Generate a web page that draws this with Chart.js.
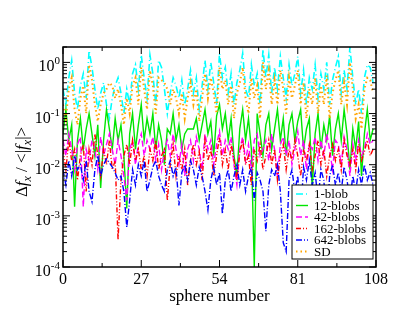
<!DOCTYPE html>
<html>
<head>
<meta charset="utf-8">
<script src="https://cdn.jsdelivr.net/npm/chart.js@4"></script>
<style>
  html, body { margin: 0; padding: 0; background: #fff; }
  #wrap { width: 407px; height: 315px; }
</style>
</head>
<body>
<div id="wrap"><canvas id="blobChart"></canvas></div>
<script>
// values, sphere 0..107
const oneBlob = [
  0.3, 0.15, 0.5, 1.1, 0.25, 0.12, 0.35, 0.6, 0.2, 1.7,
  0.8, 0.3, 0.12, 0.25, 0.4, 0.15, 0.08, 0.2, 0.35, 0.5,
  0.25, 0.1, 0.3, 0.15, 0.6, 0.9, 0.3, 1.4, 0.5, 0.2,
  1.4, 0.6, 0.15, 1.1, 0.8, 0.3, 0.1, 0.25, 0.5, 0.35,
  0.2, 0.45, 0.15, 0.3, 0.7, 0.25, 0.5, 0.12, 0.35, 1.1,
  0.3, 1.0, 0.4, 0.15, 1.5, 0.5, 0.8, 0.25, 0.6, 0.15,
  0.4, 0.7, 1.5, 0.3, 0.2, 0.9, 0.35, 0.6, 0.15, 1.8,
  0.5, 1.4, 0.25, 0.8, 0.3, 1.3, 0.5, 0.2, 0.9, 0.35,
  0.6, 1.3, 0.25, 0.7, 0.15, 0.5, 0.3, 0.9, 0.2, 0.6,
  0.3, 1.0, 0.15, 0.45, 0.8, 1.3, 0.25, 0.7, 0.3, 2.0,
  0.5, 0.15, 0.3, 0.1, 0.5, 0.9, 0.8, 0.4
];
const twelveBlobs = [
  0.04, 0.12, 0.03, 0.06, 0.0015, 0.03, 0.08, 0.02, 0.05, 0.1,
  0.04, 0.015, 0.06, 0.0035, 0.03, 0.12, 0.05, 0.02, 0.08, 0.03,
  0.06, 0.015, 0.0014, 0.04, 0.1, 0.02, 0.06, 0.15, 0.03, 0.08,
  0.04, 0.1, 0.02, 0.06, 0.03, 0.01, 0.05, 0.04, 0.1, 0.03,
  0.06, 0.02, 0.04, 0.05, 0.05, 0.05, 0.08, 0.03, 0.06, 0.12,
  0.04, 0.07, 0.015, 0.09, 0.15, 0.05, 0.1, 0.03, 0.08, 0.015,
  0.006, 0.05, 0.12, 0.03, 0.08, 0.02, 0.0001, 0.1, 0.04, 0.015,
  0.06, 0.1, 0.02, 0.05, 0.12, 0.03, 0.08, 0.015, 0.06, 0.1,
  0.03, 0.07, 0.12, 0.02, 0.05, 0.08, 0.0033, 0.04, 0.1, 0.02,
  0.06, 0.03, 0.09, 0.015, 0.05, 0.1, 0.03, 0.12, 0.04, 0.008,
  0.05, 0.02, 0.07, 0.006, 0.04, 0.12, 0.03, 0.05
];
const fortyTwoBlobs = [
  0.03, 0.015, 0.04, 0.02, 0.008, 0.025, 0.035, 0.0015, 0.02, 0.012,
  0.03, 0.02, 0.008, 0.035, 0.015, 0.025, 0.04, 0.02, 0.01, 0.03,
  0.015, 0.006, 0.002, 0.02, 0.03, 0.01, 0.025, 0.04, 0.015, 0.03,
  0.02, 0.035, 0.012, 0.025, 0.008, 0.02, 0.03, 0.015, 0.04, 0.02,
  0.01, 0.025, 0.006, 0.02, 0.03, 0.012, 0.035, 0.02, 0.008, 0.04,
  0.02, 0.03, 0.01, 0.025, 0.045, 0.015, 0.03, 0.02, 0.035, 0.01,
  0.004, 0.02, 0.035, 0.012, 0.025, 0.008, 0.03, 0.04, 0.015, 0.02,
  0.03, 0.012, 0.04, 0.02, 0.006, 0.025, 0.035, 0.015, 0.03, 0.01,
  0.02, 0.045, 0.015, 0.03, 0.008, 0.025, 0.02, 0.035, 0.012, 0.03,
  0.015, 0.04, 0.02, 0.008, 0.03, 0.025, 0.01, 0.035, 0.02, 0.006,
  0.025, 0.012, 0.03, 0.015, 0.02, 0.04, 0.025, 0.03
];
const oneSixtyTwoBlobs = [
  0.02, 0.008, 0.03, 0.012, 0.02, 0.005, 0.015, 0.025, 0.003, 0.02,
  0.01, 0.04, 0.015, 0.006, 0.02, 0.01, 0.03, 0.008, 0.012, 0.00034,
  0.005, 0.015, 0.025, 0.01, 0.03, 0.012, 0.02, 0.008, 0.015, 0.006,
  0.02, 0.012, 0.03, 0.008, 0.015, 0.02, 0.002, 0.01, 0.025, 0.006,
  0.015, 0.008, 0.02, 0.004, 0.012, 0.025, 0.01, 0.018, 0.005, 0.03,
  0.012, 0.02, 0.006, 0.015, 0.035, 0.01, 0.02, 0.008, 0.025, 0.012,
  0.005, 0.018, 0.03, 0.01, 0.015, 0.004, 0.02, 0.012, 0.025, 0.008,
  0.015, 0.03, 0.01, 0.02, 0.005, 0.015, 0.025, 0.008, 0.02, 0.012,
  0.03, 0.015, 0.006, 0.02, 0.012, 0.025, 0.008, 0.015, 0.03, 0.01,
  0.02, 0.006, 0.015, 0.025, 0.012, 0.02, 0.008, 0.03, 0.015, 0.01,
  0.02, 0.008, 0.025, 0.012, 0.018, 0.03, 0.015, 0.02
];
const sixFortyTwoBlobs = [
  0.008, 0.004, 0.012, 0.006, 0.015, 0.008, 0.01, 0.005, 0.012, 0.003,
  0.0019, 0.008, 0.015, 0.006, 0.01, 0.013, 0.011, 0.009, 0.007, 0.005,
  0.006, 0.003, 0.0006, 0.002, 0.008, 0.004, 0.01, 0.006, 0.012, 0.003,
  0.005, 0.009, 0.012, 0.006, 0.004, 0.003, 0.008, 0.012, 0.006, 0.009,
  0.0016, 0.007, 0.01, 0.005, 0.012, 0.008, 0.004, 0.009, 0.006, 0.003,
  0.0013, 0.005, 0.009, 0.004, 0.007, 0.0011, 0.005, 0.008, 0.003, 0.006,
  0.01, 0.004, 0.008, 0.003, 0.006, 0.009, 0.002, 0.007, 0.005, 0.003,
  0.0005, 0.004, 0.008, 0.006, 0.01, 0.003, 0.0003, 0.0002, 0.005, 0.008,
  0.003, 0.006, 0.001, 0.009, 0.005, 0.012, 0.004, 0.007, 0.002, 0.008,
  0.005, 0.0008, 0.006, 0.01, 0.004, 0.007, 0.003, 0.009, 0.005, 0.002,
  0.006, 0.003, 0.008, 0.004, 0.01, 0.005, 0.007, 0.004
];
const sdValues = [
  0.15, 0.08, 0.3, 0.5, 0.12, 0.06, 0.2, 0.35, 0.1, 0.9,
  0.45, 0.15, 0.07, 0.15, 0.25, 0.3, 0.4, 0.35, 0.2, 0.3,
  0.15, 0.06, 0.2, 0.1, 0.35, 0.5, 0.15, 0.8, 0.3, 0.12,
  0.7, 0.35, 0.1, 0.5, 0.45, 0.4, 0.3, 0.15, 0.3, 0.2,
  0.1, 0.25, 0.08, 0.2, 0.4, 0.15, 0.3, 0.07, 0.2, 0.6,
  0.2, 0.5, 0.25, 0.1, 0.8, 0.3, 0.45, 0.15, 0.35, 0.08,
  0.25, 0.4, 0.8, 0.2, 0.1, 0.5, 0.2, 0.35, 0.08, 1.0,
  0.3, 0.7, 0.15, 0.45, 0.15, 0.7, 0.3, 0.1, 0.5, 0.2,
  0.35, 0.7, 0.15, 0.4, 0.08, 0.3, 0.15, 0.5, 0.1, 0.35,
  0.15, 0.55, 0.08, 0.25, 0.45, 0.7, 0.15, 0.4, 0.15, 1.0,
  0.3, 0.08, 0.15, 0.05, 0.3, 0.5, 0.45, 0.25
];

const xTicks = [0, 27, 54, 81, 108];
const yDecades = [-4, -3, -2, -1, 0];

const seriesNames = ['1-blob', '12-blobs', '42-blobs', '162-blobs', '642-blobs', 'SD'];
const seriesValues = [oneBlob, twelveBlobs, fortyTwoBlobs, oneSixtyTwoBlobs, sixFortyTwoBlobs, sdValues];
const seriesColors = ['#00ffff', '#00e600', '#ff00ff', '#ff0000', '#0000ff', '#ffa500'];
const seriesDash = [[7, 3, 1, 3], [], [6, 3], [5, 2, 1, 2, 1, 2], [6, 2, 1, 2], [1.5, 3]];
const seriesWidth = [1.6, 1.4, 1.4, 1.4, 1.4, 2];

const SERIF = '"Liberation Serif", "DejaVu Serif", serif';

const datasets = seriesNames.map((name, k) => ({
  label: name,
  data: seriesValues[k].map((v, i) => ({ x: i, y: v })),
  borderColor: seriesColors[k],
  borderWidth: seriesWidth[k],
  borderDash: seriesDash[k],
  pointRadius: 0,
  fill: false,
  tension: 0,
  order: seriesNames.length - k
}));

const framePlugin = {
  id: 'frame',
  afterDraw(chart) {
    const c = chart.ctx;
    const a = chart.chartArea;
    const xs = chart.scales.x;
    const ys = chart.scales.y;
    c.save();
    c.strokeStyle = '#000';
    c.fillStyle = '#000';
    c.lineWidth = 1.5;
    c.setLineDash([]);
    c.strokeRect(a.left, a.top, a.right - a.left, a.bottom - a.top);

    // x ticks top and bottom
    c.lineWidth = 1;
    for (let v = 0; v <= 108; v += 13.5) {
      const px = xs.getPixelForValue(v);
      const len = (v % 27 === 0) ? 7 : 4;
      c.beginPath();
      c.moveTo(px, a.bottom); c.lineTo(px, a.bottom - len);
      c.moveTo(px, a.top); c.lineTo(px, a.top + len);
      c.stroke();
    }
    // y ticks left and right
    for (let d = -4; d <= 0; d++) {
      for (let m = 1; m <= 9; m++) {
        const val = m * Math.pow(10, d);
        if (val > ys.max) break;
        const py = ys.getPixelForValue(val);
        const len = m === 1 ? 7 : 4;
        c.beginPath();
        c.moveTo(a.left, py); c.lineTo(a.left + len, py);
        c.moveTo(a.right, py); c.lineTo(a.right - len, py);
        c.stroke();
      }
    }

    // x tick labels
    c.font = '16px ' + SERIF;
    c.textAlign = 'center';
    c.textBaseline = 'alphabetic';
    xTicks.forEach(t => {
      c.fillText(String(t), xs.getPixelForValue(t), a.bottom + 17);
    });

    // y tick labels 10^n
    yDecades.forEach(d => {
      const py = ys.getPixelForValue(Math.pow(10, d));
      const exp = String(d).replace('-', '-');
      c.font = '11px ' + SERIF;
      const ew = c.measureText(exp).width;
      c.font = '16px ' + SERIF;
      const bw = c.measureText('10').width;
      const right = a.left - 3;
      c.textAlign = 'left';
      c.fillText('10', right - ew - bw, py + 9);
      c.font = '11px ' + SERIF;
      c.fillText(exp, right - ew, py + 2);
    });

    // x title
    c.font = '17px ' + SERIF;
    c.textAlign = 'center';
    c.fillText('sphere number', (a.left + a.right) / 2, 301);

    // y title, rotated
    const parts = [
      { t: '\u0394', f: '17px ' + SERIF, dy: 0 },
      { t: 'f', f: 'italic 17px ' + SERIF, dy: 0 },
      { t: 'x', f: 'italic 12px ' + SERIF, dy: 4 },
      { t: ' / <|', f: '17px ' + SERIF, dy: 0 },
      { t: 'f', f: 'italic 17px ' + SERIF, dy: 0 },
      { t: 'x', f: 'italic 12px ' + SERIF, dy: 4 },
      { t: '|>', f: '17px ' + SERIF, dy: 0 }
    ];
    let total = 0;
    parts.forEach(p => { c.font = p.f; p.w = c.measureText(p.t).width; total += p.w; });
    c.translate(27, 162);
    c.rotate(-Math.PI / 2);
    c.textAlign = 'left';
    let x0 = -total / 2;
    parts.forEach(p => {
      c.font = p.f;
      c.fillText(p.t, x0, p.dy);
      x0 += p.w;
    });
    c.restore();

    // legend box
    c.save();
    const lx = 292, ly = 185, lw = 81, lh = 74;
    c.fillStyle = '#fff';
    c.fillRect(lx, ly, lw, lh);
    c.strokeStyle = '#000';
    c.lineWidth = 1;
    c.strokeRect(lx, ly, lw, lh);
    c.font = '13px ' + SERIF;
    c.textAlign = 'left';
    c.textBaseline = 'middle';
    seriesNames.forEach((name, k) => {
      const yy = ly + 9 + k * 11.5;
      c.strokeStyle = seriesColors[k];
      c.lineWidth = seriesWidth[k];
      c.setLineDash(seriesDash[k]);
      c.beginPath();
      c.moveTo(lx + 4, yy); c.lineTo(lx + 16, yy);
      c.stroke();
      c.fillStyle = '#000';
      c.fillText(name, lx + 22, yy + 1);
    });
    c.restore();
  }
};

const ctx = document.getElementById('blobChart').getContext('2d');
const blobChart = new Chart(ctx, {
  type: 'line',
  data: { datasets: datasets },
  options: {
    responsive: true,
    maintainAspectRatio: false,
    animation: false,
    layout: { padding: { left: 63, right: 31, top: 47, bottom: 48 } },
    plugins: { legend: { display: false }, tooltip: { enabled: false } },
    scales: {
      x: { type: 'linear', min: 0, max: 108, display: false },
      y: { type: 'logarithmic', min: 0.0001, max: 2, display: false }
    }
  },
  plugins: [framePlugin]
});
</script>
</body>
</html>
